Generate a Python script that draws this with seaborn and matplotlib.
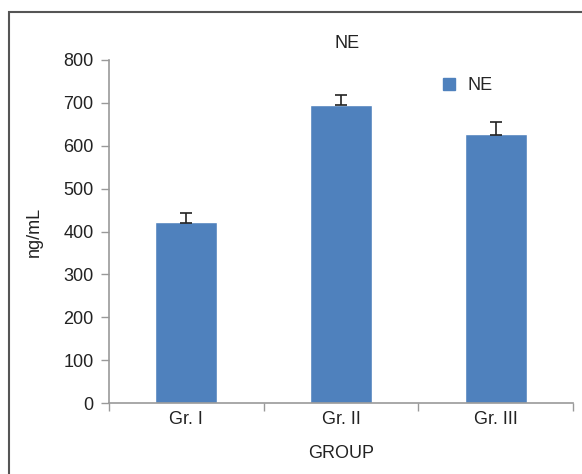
import matplotlib
matplotlib.use("Agg")
import matplotlib.pyplot as plt
import seaborn as sns
import pandas as pd
from matplotlib.patches import Rectangle
from matplotlib.lines import Line2D

groups = ["Gr. I", "Gr. II", "Gr. III"]
ne_values = [422, 696, 627]
ne_err_up = [20, 22, 28]
ne_err_down = [2, 2, 2]
y_ticks = [0, 100, 200, 300, 400, 500, 600, 700, 800]

sns.set_theme(style="white")
plt.rcParams['font.family'] = ['Liberation Sans', 'DejaVu Sans']

df = pd.DataFrame({"GROUP": groups, "NE": ne_values})

fig = plt.figure(figsize=(5.82, 4.74), dpi=100)
ax = fig.add_axes([109/582, 71/474, (573-109)/582, (403-60)/474])

blue = "#4F81BD"
txt = "#222222"
fs = 13
sns.barplot(data=df, x="GROUP", y="NE", color=blue, width=0.4, ax=ax,
            saturation=1, errorbar=None)
ax.errorbar(range(len(groups)), ne_values, yerr=[ne_err_down, ne_err_up],
            fmt="none", ecolor="#222222", elinewidth=1.2, capsize=4, capthick=1.2)

ax.set_ylim(0, 800)
ax.set_xlim(-0.5, 2.5)
ax.set_yticks(y_ticks)
ax.set_yticklabels([str(v) for v in y_ticks], fontsize=fs, color=txt)
ax.set_xticks([0, 1, 2])
ax.set_xticklabels(groups, fontsize=fs, color=txt)
ax.tick_params(axis="x", length=0, pad=6)
ax.tick_params(axis="y", length=6, width=1, color="#999999", direction="out", left=True, pad=5)
ax.set_xticks([-0.5, 0.5, 1.5, 2.5], minor=True)
ax.tick_params(axis="x", which="minor", length=6, width=1, color="#999999", direction="out", bottom=True)

for s in ["top", "right"]:
    ax.spines[s].set_visible(False)
for s in ["left", "bottom"]:
    ax.spines[s].set_color("#999999")
    ax.spines[s].set_linewidth(1.2)

ax.set_xlabel("GROUP", fontsize=fs, color=txt, labelpad=12)
ax.set_ylabel("ng/mL", fontsize=fs, color=txt, labelpad=15)
ax.set_title("NE", fontsize=fs, color=txt, pad=9, x=(347.5-109)/464)

handle = Line2D([0], [0], marker="s", linestyle="none", markersize=8,
                markerfacecolor=blue, markeredgecolor=blue)
ax.legend([handle], ["NE"], loc="upper left", bbox_to_anchor=((424-109)/464, (403-70)/343),
          frameon=False, fontsize=fs, handletextpad=0.0, borderaxespad=0)

fig.patches.append(Rectangle((9/582, -0.1), 1.2, (474-12)/474 + 0.1, transform=fig.transFigure,
                             fill=False, edgecolor="#555555", linewidth=1.5))

fig.savefig("out.png", dpi=100)
